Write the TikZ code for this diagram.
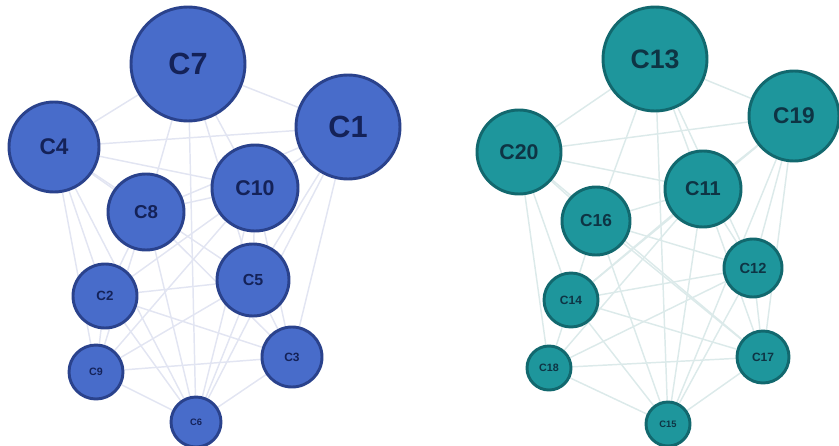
\documentclass[tikz,border=0pt]{standalone}
\usepackage{fontspec}
\setmainfont{Liberation Sans}
\usetikzlibrary{backgrounds}

\definecolor{bluefill}{RGB}{72,108,202}
\definecolor{bluedark}{RGB}{42,66,140}
\definecolor{bluetext}{RGB}{20,34,88}
\definecolor{tealfill}{RGB}{30,150,156}
\definecolor{tealdark}{RGB}{18,104,110}
\definecolor{tealtext}{RGB}{14,52,68}
\definecolor{blueedge}{RGB}{226,229,242}
\definecolor{tealedge}{RGB}{220,234,234}

\newcommand{\fs}[1]{\fontsize{#1}{#1}\selectfont}

\tikzset{
	bnode/.style={circle,draw=bluedark,fill=bluefill,text=bluetext,font=\bfseries,line width=2.2pt,inner sep=0pt},
	tnode/.style={circle,draw=tealdark,fill=tealfill,text=tealtext,font=\bfseries,line width=2.2pt,inner sep=0pt},
	sz/.style={minimum size=#1*1.5pt}
}

\begin{document}
\begin{tikzpicture}[x=0.75pt,y=-0.75pt]
	\useasboundingbox (0,0) rectangle (839,446);

	% left cluster
	\node[bnode,sz=57](C7) at (188,64) {\fs{23}C7};
	\node[bnode,sz=52](C1) at (348,127) {\fs{23}C1};
	\node[bnode,sz=45](C4) at (54,147) {\fs{17}C4};
	\node[bnode,sz=43](C10) at (255,188) {\fs{16}C10};
	\node[bnode,sz=38](C8) at (146,212) {\fs{14}C8};
	\node[bnode,sz=36](C5) at (253,280) {\fs{12}C5};
	\node[bnode,sz=32](C2) at (105,296) {\fs{10}C2};
	\node[bnode,sz=30](C3) at (292,357) {\fs{9}C3};
	\node[bnode,sz=27](C9) at (96,372) {\fs{8}C9};
	\node[bnode,sz=25](C6) at (196,422) {\fs{7}C6};

	% right cluster
	\node[tnode,sz=52](C13) at (655,59) {\fs{20}C13};
	\node[tnode,sz=45](C19) at (794,116) {\fs{17}C19};
	\node[tnode,sz=42](C20) at (519,152) {\fs{16}C20};
	\node[tnode,sz=38](C11) at (703,189) {\fs{15}C11};
	\node[tnode,sz=34](C16) at (596,221) {\fs{13}C16};
	\node[tnode,sz=29](C12) at (753,268) {\fs{11}C12};
	\node[tnode,sz=27](C14) at (571,300) {\fs{9}C14};
	\node[tnode,sz=26](C17) at (763,357) {\fs{9}C17};
	\node[tnode,sz=22](C18) at (549,368) {\fs{8}C18};
	\node[tnode,sz=22](C15) at (668,424) {\fs{7}C15};

	\begin{scope}[on background layer]
	\path[draw=blueedge,line width=1.1pt]
	(C7) edge (C4) edge (C1) edge (C8) edge (C10) edge (C5) edge (C6)
	(C4) edge (C1) edge (C10) edge (C8) edge (C2) edge (C9) edge (C6) edge (C5)
	(C1) edge (C10) edge (C3) edge (C5) edge (C8) edge (C6)
	(C10) edge (C8) edge (C2) edge (C9) edge (C5) edge (C6) edge (C3)
	(C8) edge (C2) edge (C3) edge (C6) edge (C9)
	(C5) edge (C2) edge (C9) edge (C6) edge (C3)
	(C2) edge (C3) edge (C9) edge (C6)
	(C9) edge (C3) edge (C6)
	(C3) edge (C6);

	\path[draw=tealedge,line width=1.1pt]
	(C13) edge (C20) edge (C19) edge (C16) edge (C11) edge (C15) edge (C12)
	(C20) edge (C19) edge (C11) edge (C16) edge (C14) edge (C18) edge (C17)
	(C19) edge (C11) edge (C12) edge (C17) edge (C14) edge (C15)
	(C11) edge (C16) edge (C14) edge (C12) edge (C18) edge (C15) edge (C17)
	(C16) edge (C14) edge (C17) edge (C15) edge (C12)
	(C12) edge (C14) edge (C18) edge (C17) edge (C15)
	(C14) edge (C18) edge (C15) edge (C17)
	(C18) edge (C17) edge (C15)
	(C17) edge (C15);
	\end{scope}
\end{tikzpicture}
\end{document}
